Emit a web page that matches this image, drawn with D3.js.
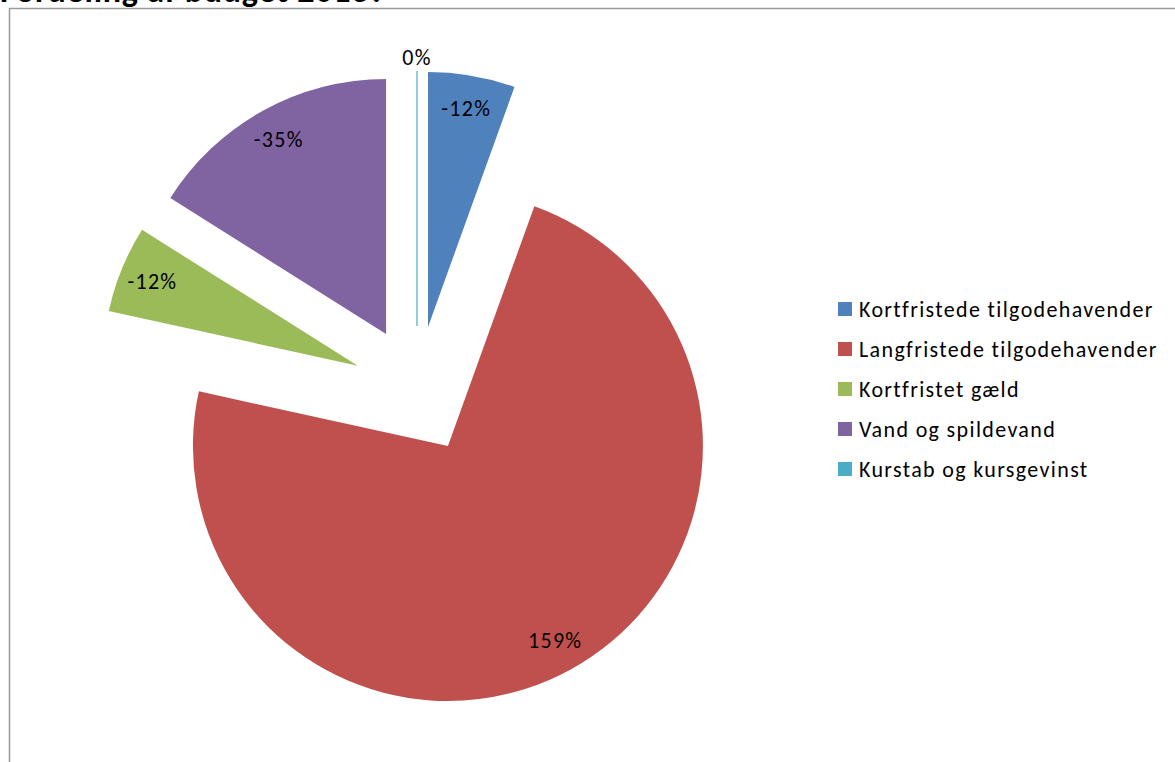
<!DOCTYPE html>
<html>
<head>
<meta charset="utf-8">
<script src="https://cdn.jsdelivr.net/npm/d3@7"></script>
<style>
  html, body { margin: 0; padding: 0; background: #fff; }
  svg { display: block; }
  text { font-family: Carlito, "Open Sans", "Liberation Sans", sans-serif; fill: #000; }
</style>
</head>
<body>
<svg id="chart" width="1175" height="762"></svg>
<script>
// Budget distribution 2013 (percent shares, signed)
const categories = [
  "Kortfristede tilgodehavender",
  "Langfristede tilgodehavender",
  "Kortfristet gæld",
  "Vand og spildevand",
  "Kurstab og kursgevinst"
];
const shares = [-12, 159, -12, -35, 0];
const colors = ["#4F81BD", "#C0504D", "#9BBB59", "#8064A2", "#4BACC6"];
const title = "Fordeling af budget 2013?";

const svg = d3.select("#chart");
const W = 1175, H = 762;

// chart area frame
svg.append("path")
  .attr("d", `M9.5,${H} V8.5 H${W}`)
  .attr("fill", "none")
  .attr("stroke", "#9a9a9a")
  .attr("stroke-width", 1.5);

// title (runs above the frame's top edge)
svg.append("text")
  .attr("x", 0).attr("y", 1.5)
  .attr("font-size", 34)
  .attr("font-weight", "bold")
  .attr("letter-spacing", 0.8)
  .text(title);

const cx = 417, cy = 390, radius = 255, explode = 64, labelR = 222;

const pie = d3.pie()
  .value(d => Math.abs(d.v))
  .sort(null)
  .startAngle(0)
  .endAngle(2 * Math.PI);

const data = categories.map((c, i) => ({ name: c, v: shares[i], color: colors[i] }));
const arcs = pie(data);
const arc = d3.arc().innerRadius(0).outerRadius(radius);

const g = svg.append("g").attr("transform", `translate(${cx},${cy})`);

const slice = g.selectAll("g.slice")
  .data(arcs)
  .join("g")
  .attr("class", "slice")
  .attr("transform", d => {
    const m = (d.startAngle + d.endAngle) / 2;
    return `translate(${explode * Math.sin(m)},${-explode * Math.cos(m)})`;
  });

slice.append("path")
  .attr("d", arc)
  .attr("fill", d => d.data.color)
  .attr("stroke", d => d.data.color)
  .attr("stroke-width", d => d.value === 0 ? 1.2 : 0);

// value labels: inside each slice, outside the rim for an empty slice
const labelPos = d => {
  const m = (d.startAngle + d.endAngle) / 2;
  const r = d.value === 0 ? radius + 14 : labelR;
  return [r * Math.sin(m), -r * Math.cos(m)];
};
slice.append("text")
  .attr("text-anchor", "middle")
  .attr("dominant-baseline", "central")
  .attr("font-size", 22)
  .attr("letter-spacing", 1.3)
  .attr("x", d => labelPos(d)[0])
  .attr("y", d => labelPos(d)[1])
  .text(d => d.data.v + "%");

// legend
const legend = svg.append("g").attr("transform", "translate(838,302)");
const item = legend.selectAll("g")
  .data(data)
  .join("g")
  .attr("transform", (d, i) => `translate(0,${i * 40})`);
item.append("rect")
  .attr("width", 14).attr("height", 14)
  .attr("fill", d => d.color);
item.append("text")
  .attr("x", 21).attr("y", 14.5)
  .attr("font-size", 22)
  .attr("letter-spacing", 1.35)
  .text(d => d.name);
</script>
</body>
</html>
